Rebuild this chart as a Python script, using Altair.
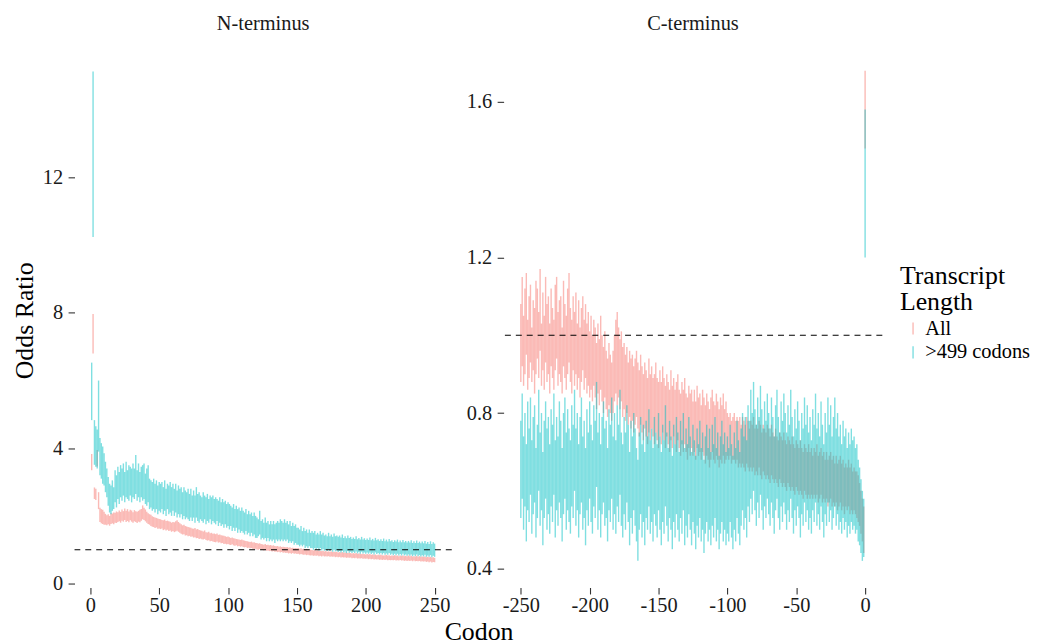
import altair as alt
import pandas as pd

SERIF = "Liberation Serif"
SERIES = ["All", ">499 codons"]
COLORS = ["#F8766D", "#00BFC4"]
PANELS = ["N-terminus", "C-terminus"]

n_codons = list(range(1, 251))
c_codons = list(range(-250, 1))

# ---- N-terminus, "All" (lower / upper CI) ----
n_all_lo = [
    3.35, 6.80, 2.50, 2.47, 3.46, 2.20, 1.82, 1.78, 1.76, 1.74,
    1.74, 1.72, 1.75, 1.71, 1.76, 1.78, 1.75, 1.80, 1.79, 1.82,
    1.84, 1.80, 1.86, 1.83, 1.88, 1.82, 1.85, 1.81, 1.87, 1.83,
    1.80, 1.84, 1.82, 1.79, 1.83, 1.81, 1.86, 1.90, 1.88, 1.84,
    1.80, 1.76, 1.74, 1.70, 1.68, 1.67, 1.64, 1.66, 1.62, 1.63,
    1.61, 1.63, 1.58, 1.60, 1.57, 1.59, 1.55, 1.57, 1.53, 1.55,
    1.52, 1.54, 1.56, 1.53, 1.50, 1.47, 1.45, 1.46, 1.42, 1.43,
    1.40, 1.41, 1.38, 1.39, 1.36, 1.37, 1.34, 1.35, 1.32, 1.33,
    1.31, 1.30, 1.32, 1.29, 1.27, 1.28, 1.25, 1.26, 1.24, 1.23,
    1.22, 1.24, 1.21, 1.22, 1.19, 1.20, 1.17, 1.18, 1.16, 1.17,
    1.15, 1.14, 1.16, 1.13, 1.12, 1.13, 1.10, 1.11, 1.09, 1.10,
    1.08, 1.07, 1.08, 1.05, 1.06, 1.04, 1.05, 1.03, 1.02, 1.03,
    1.01, 1.00, 1.02, 0.99, 1.00, 0.98, 0.99, 0.97, 0.98, 0.96,
    0.97, 0.95, 0.96, 0.94, 0.95, 0.93, 0.94, 0.92, 0.93, 0.91,
    0.92, 0.90, 0.91, 0.89, 0.90, 0.88, 0.90, 0.88, 0.89, 0.87,
    0.88, 0.86, 0.87, 0.86, 0.85, 0.86, 0.84, 0.85, 0.84, 0.83,
    0.84, 0.82, 0.83, 0.82, 0.83, 0.81, 0.82, 0.80, 0.82, 0.80,
    0.81, 0.80, 0.81, 0.79, 0.80, 0.79, 0.80, 0.78, 0.79, 0.78,
    0.79, 0.77, 0.78, 0.77, 0.78, 0.76, 0.77, 0.76, 0.77, 0.75,
    0.76, 0.75, 0.76, 0.74, 0.75, 0.74, 0.75, 0.73, 0.74, 0.73,
    0.74, 0.72, 0.73, 0.72, 0.73, 0.71, 0.72, 0.71, 0.72, 0.70,
    0.71, 0.70, 0.71, 0.70, 0.71, 0.69, 0.70, 0.69, 0.70, 0.69,
    0.70, 0.68, 0.69, 0.68, 0.70, 0.68, 0.69, 0.67, 0.68, 0.67,
    0.68, 0.67, 0.68, 0.66, 0.68, 0.66, 0.67, 0.66, 0.67, 0.65,
    0.66, 0.65, 0.66, 0.64, 0.65, 0.63, 0.65, 0.62, 0.64, 0.63,
]
n_all_hi = [
    3.83, 7.97, 2.84, 2.80, 3.95, 2.70, 2.24, 2.20, 2.18, 2.12,
    2.06, 2.02, 2.05, 2.00, 2.08, 2.07, 2.10, 2.09, 2.13, 2.11,
    2.16, 2.12, 2.19, 2.14, 2.22, 2.15, 2.20, 2.13, 2.18, 2.16,
    2.11, 2.17, 2.14, 2.12, 2.15, 2.18, 2.20, 2.31, 2.24, 2.19,
    2.12, 2.08, 2.05, 2.03, 1.99, 1.97, 1.95, 1.94, 1.92, 1.91,
    1.90, 1.88, 1.87, 1.89, 1.85, 1.86, 1.84, 1.83, 1.80, 1.82,
    1.81, 1.84, 1.87, 1.82, 1.78, 1.75, 1.72, 1.74, 1.70, 1.69,
    1.67, 1.66, 1.65, 1.63, 1.62, 1.64, 1.60, 1.61, 1.58, 1.57,
    1.56, 1.54, 1.57, 1.52, 1.51, 1.53, 1.49, 1.50, 1.47, 1.48,
    1.46, 1.48, 1.44, 1.45, 1.43, 1.42, 1.41, 1.40, 1.38, 1.39,
    1.37, 1.35, 1.36, 1.34, 1.33, 1.32, 1.31, 1.30, 1.29, 1.30,
    1.28, 1.27, 1.26, 1.25, 1.24, 1.23, 1.24, 1.21, 1.22, 1.20,
    1.20, 1.18, 1.19, 1.17, 1.16, 1.15, 1.17, 1.14, 1.15, 1.13,
    1.14, 1.12, 1.13, 1.11, 1.10, 1.11, 1.09, 1.10, 1.08, 1.09,
    1.08, 1.07, 1.08, 1.06, 1.07, 1.05, 1.06, 1.04, 1.05, 1.04,
    1.05, 1.03, 1.04, 1.02, 1.03, 1.01, 1.02, 1.00, 1.01, 1.00,
    0.99, 0.98, 0.99, 0.97, 0.98, 0.97, 0.96, 0.96, 0.97, 0.95,
    0.96, 0.94, 0.95, 0.94, 0.95, 0.93, 0.94, 0.93, 0.94, 0.92,
    0.93, 0.92, 0.93, 0.91, 0.92, 0.91, 0.90, 0.91, 0.90, 0.89,
    0.90, 0.89, 0.90, 0.88, 0.89, 0.88, 0.87, 0.88, 0.87, 0.86,
    0.87, 0.86, 0.87, 0.85, 0.86, 0.85, 0.86, 0.84, 0.85, 0.84,
    0.85, 0.84, 0.83, 0.84, 0.85, 0.83, 0.84, 0.82, 0.83, 0.82,
    0.84, 0.82, 0.83, 0.81, 0.83, 0.82, 0.83, 0.81, 0.82, 0.81,
    0.83, 0.81, 0.82, 0.80, 0.81, 0.80, 0.82, 0.79, 0.81, 0.79,
    0.80, 0.79, 0.80, 0.78, 0.79, 0.78, 0.79, 0.77, 0.78, 0.76,
]

# ---- N-terminus, ">499 codons" ----
n_long_lo = [
    4.83, 10.24, 3.51, 3.45, 3.40, 3.90, 3.20, 3.10, 2.95, 2.90,
    2.70, 2.55, 2.30, 2.10, 2.05, 2.15, 2.20, 2.40, 2.25, 2.50,
    2.35, 2.55, 2.45, 2.60, 2.40, 2.55, 2.50, 2.45, 2.60, 2.40,
    2.55, 2.50, 2.65, 2.45, 2.55, 2.40, 2.55, 2.45, 2.50, 2.35,
    2.30, 2.40, 2.20, 2.25, 2.15, 2.20, 2.10, 2.20, 2.05, 2.15,
    2.10, 2.20, 2.05, 2.15, 2.00, 2.20, 2.05, 2.10, 2.00, 2.15,
    2.00, 2.10, 1.95, 2.05, 1.95, 2.05, 1.90, 2.00, 1.90, 1.95,
    1.90, 1.85, 1.95, 1.85, 1.95, 1.80, 1.95, 1.85, 1.80, 1.90,
    1.85, 1.80, 1.90, 1.75, 1.85, 1.80, 1.90, 1.75, 1.85, 1.80,
    1.75, 1.85, 1.70, 1.80, 1.70, 1.75, 1.65, 1.75, 1.65, 1.70,
    1.60, 1.70, 1.55, 1.65, 1.55, 1.65, 1.50, 1.60, 1.50, 1.55,
    1.50, 1.45, 1.55, 1.45, 1.50, 1.40, 1.50, 1.40, 1.45, 1.35,
    1.35, 1.40, 1.45, 1.30, 1.35, 1.30, 1.35, 1.25, 1.35, 1.25,
    1.30, 1.25, 1.30, 1.20, 1.30, 1.25, 1.30, 1.25, 1.30, 1.25,
    1.30, 1.25, 1.30, 1.20, 1.25, 1.20, 1.25, 1.15, 1.20, 1.15,
    1.15, 1.10, 1.15, 1.10, 1.15, 1.05, 1.10, 1.05, 1.10, 1.05,
    1.05, 1.00, 1.05, 1.00, 1.05, 0.98, 1.05, 0.98, 1.02, 0.97,
    1.00, 0.96, 1.02, 0.96, 1.00, 0.94, 1.00, 0.95, 0.98, 0.93,
    0.96, 0.92, 0.97, 0.92, 0.95, 0.90, 0.96, 0.91, 0.94, 0.90,
    0.94, 0.90, 0.95, 0.89, 0.93, 0.88, 0.94, 0.89, 0.92, 0.88,
    0.92, 0.88, 0.92, 0.87, 0.91, 0.86, 0.92, 0.87, 0.90, 0.86,
    0.90, 0.86, 0.90, 0.85, 0.89, 0.85, 0.90, 0.85, 0.88, 0.84,
    0.88, 0.84, 0.88, 0.83, 0.87, 0.83, 0.88, 0.83, 0.86, 0.82,
    0.86, 0.82, 0.86, 0.81, 0.85, 0.81, 0.86, 0.81, 0.84, 0.80,
    0.84, 0.80, 0.85, 0.79, 0.83, 0.79, 0.84, 0.78, 0.82, 0.79,
]
n_long_hi = [
    6.53, 15.13, 4.83, 4.65, 4.55, 6.00, 4.30, 4.15, 4.05, 3.85,
    3.60, 3.40, 3.15, 2.95, 2.90, 3.05, 2.85, 3.35, 3.20, 3.45,
    3.30, 3.50, 3.40, 3.55, 3.30, 3.60, 3.35, 3.50, 3.45, 3.40,
    3.55, 3.40, 3.80, 3.35, 3.55, 3.30, 3.45, 3.50, 3.55, 3.25,
    3.40, 3.50, 3.10, 3.05, 3.00, 3.10, 2.95, 3.05, 2.90, 3.00,
    2.95, 3.00, 2.85, 3.05, 2.80, 2.95, 2.90, 3.00, 2.85, 2.95,
    2.80, 2.95, 2.75, 2.90, 2.80, 2.85, 2.70, 2.85, 2.75, 2.70,
    2.80, 2.65, 2.80, 2.60, 2.75, 2.60, 2.85, 2.65, 2.70, 2.60,
    2.55, 2.70, 2.60, 2.55, 2.65, 2.50, 2.60, 2.55, 2.60, 2.50,
    2.55, 2.50, 2.45, 2.55, 2.40, 2.50, 2.40, 2.45, 2.35, 2.40,
    2.35, 2.30, 2.25, 2.35, 2.20, 2.30, 2.20, 2.25, 2.15, 2.25,
    2.15, 2.10, 2.20, 2.05, 2.15, 2.05, 2.10, 2.00, 2.10, 2.00,
    1.95, 1.90, 2.15, 1.85, 1.90, 1.80, 1.95, 1.80, 1.85, 1.75,
    1.85, 1.75, 1.85, 1.75, 1.80, 1.85, 1.80, 1.90, 1.85, 1.80,
    1.90, 1.80, 1.85, 1.75, 1.85, 1.70, 1.80, 1.70, 1.75, 1.65,
    1.65, 1.60, 1.70, 1.55, 1.65, 1.55, 1.60, 1.50, 1.60, 1.50,
    1.55, 1.50, 1.55, 1.45, 1.50, 1.45, 1.55, 1.45, 1.50, 1.42,
    1.45, 1.40, 1.50, 1.40, 1.45, 1.38, 1.48, 1.40, 1.42, 1.38,
    1.42, 1.36, 1.45, 1.35, 1.40, 1.34, 1.42, 1.35, 1.38, 1.32,
    1.36, 1.32, 1.40, 1.31, 1.35, 1.30, 1.38, 1.30, 1.34, 1.29,
    1.33, 1.29, 1.36, 1.28, 1.32, 1.27, 1.35, 1.28, 1.31, 1.26,
    1.31, 1.26, 1.33, 1.25, 1.30, 1.24, 1.32, 1.25, 1.28, 1.23,
    1.28, 1.24, 1.30, 1.22, 1.27, 1.22, 1.29, 1.22, 1.26, 1.21,
    1.26, 1.21, 1.28, 1.20, 1.25, 1.20, 1.27, 1.20, 1.24, 1.19,
    1.24, 1.19, 1.26, 1.18, 1.23, 1.17, 1.25, 1.17, 1.22, 1.18,
]

# ---- C-terminus, "All" (codon -250 ... 0) ----
c_all_lo = [
    0.88, 0.92, 0.87, 0.90, 0.95, 0.86, 0.89, 0.93, 0.88, 0.91,
    0.85, 0.90, 0.94, 0.89, 0.96, 0.87, 0.91, 0.86, 0.93, 0.88,
    0.90, 0.85, 0.92, 0.89, 0.86, 0.91, 0.94, 0.87, 0.90, 0.88,
    0.85, 0.92, 0.89, 0.86, 0.90, 0.93, 0.88, 0.85, 0.91, 0.87,
    0.90, 0.86, 0.89, 0.84, 0.88, 0.91, 0.86, 0.89, 0.85, 0.87,
    0.84, 0.86, 0.83, 0.87, 0.84, 0.81, 0.85, 0.82, 0.86, 0.83,
    0.80, 0.84, 0.81, 0.79, 0.82, 0.80, 0.78, 0.80, 0.83, 0.85,
    0.82, 0.84, 0.81, 0.83, 0.79, 0.81, 0.78, 0.80, 0.77, 0.79,
    0.76, 0.78, 0.75, 0.77, 0.79, 0.76, 0.74, 0.77, 0.75, 0.73,
    0.76, 0.74, 0.72, 0.75, 0.73, 0.76, 0.74, 0.72, 0.75, 0.73,
    0.71, 0.74, 0.72, 0.75, 0.73, 0.71, 0.74, 0.72, 0.70, 0.73,
    0.71, 0.74, 0.72, 0.70, 0.73, 0.71, 0.69, 0.72, 0.70, 0.72,
    0.70, 0.68, 0.71, 0.69, 0.71, 0.69, 0.70, 0.68, 0.71, 0.69,
    0.70, 0.68, 0.70, 0.69, 0.67, 0.69, 0.68, 0.66, 0.68, 0.70,
    0.68, 0.67, 0.69, 0.68, 0.66, 0.68, 0.67, 0.69, 0.67, 0.68,
    0.69, 0.68, 0.69, 0.67, 0.68, 0.68, 0.67, 0.68, 0.66, 0.67,
    0.66, 0.67, 0.66, 0.65, 0.67, 0.66, 0.65, 0.66, 0.65, 0.66,
    0.64, 0.65, 0.64, 0.66, 0.64, 0.63, 0.65, 0.64, 0.63, 0.64,
    0.63, 0.62, 0.64, 0.63, 0.62, 0.63, 0.62, 0.61, 0.63, 0.62,
    0.61, 0.62, 0.61, 0.60, 0.62, 0.61, 0.60, 0.61, 0.60, 0.59,
    0.61, 0.60, 0.59, 0.60, 0.59, 0.58, 0.60, 0.59, 0.58, 0.59,
    0.58, 0.59, 0.58, 0.59, 0.58, 0.59, 0.57, 0.58, 0.59, 0.57,
    0.58, 0.57, 0.58, 0.56, 0.57, 0.58, 0.56, 0.57, 0.56, 0.57,
    0.55, 0.56, 0.57, 0.55, 0.56, 0.54, 0.56, 0.55, 0.56, 0.54,
    0.55, 0.54, 0.55, 0.54, 0.53, 0.52, 0.51, 0.49, 0.47, 0.44,
    1.48,
]
c_all_hi = [
    1.08, 1.15, 1.05, 1.12, 1.16, 1.04, 1.10, 1.13, 1.02, 1.09,
    1.07, 1.14, 1.12, 1.06, 1.17, 1.03, 1.11, 1.05, 1.15, 1.08,
    1.10, 1.03, 1.12, 1.07, 1.04, 1.13, 1.15, 1.06, 1.09, 1.10,
    1.02, 1.14, 1.08, 1.05, 1.12, 1.16, 1.07, 1.04, 1.10, 1.06,
    1.11, 1.03, 1.09, 1.02, 1.07, 1.10, 1.04, 1.08, 1.03, 1.06,
    1.01, 1.05, 1.00, 1.04, 1.02, 0.98, 1.03, 0.99, 1.05, 1.00,
    0.97, 1.01, 0.96, 0.94, 0.98, 0.95, 0.93, 0.96, 1.00, 1.04,
    1.06, 1.02, 0.99, 1.01, 0.97, 0.98, 0.95, 0.97, 0.93, 0.96,
    0.94, 0.95, 0.92, 0.94, 0.96, 0.93, 0.91, 0.95, 0.92, 0.90,
    0.93, 0.91, 0.89, 0.94, 0.90, 0.92, 0.89, 0.90, 0.93, 0.89,
    0.88, 0.91, 0.88, 0.92, 0.89, 0.87, 0.90, 0.88, 0.86, 0.91,
    0.87, 0.89, 0.86, 0.88, 0.90, 0.86, 0.85, 0.88, 0.86, 0.89,
    0.85, 0.84, 0.87, 0.85, 0.86, 0.83, 0.86, 0.83, 0.87, 0.84,
    0.85, 0.82, 0.86, 0.84, 0.82, 0.85, 0.83, 0.81, 0.84, 0.86,
    0.83, 0.82, 0.85, 0.83, 0.81, 0.84, 0.82, 0.85, 0.81, 0.83,
    0.80, 0.79, 0.80, 0.78, 0.79, 0.80, 0.78, 0.79, 0.78, 0.79,
    0.77, 0.79, 0.78, 0.77, 0.79, 0.78, 0.76, 0.78, 0.77, 0.79,
    0.76, 0.77, 0.76, 0.78, 0.77, 0.75, 0.77, 0.76, 0.75, 0.77,
    0.76, 0.74, 0.77, 0.75, 0.74, 0.76, 0.74, 0.73, 0.75, 0.74,
    0.73, 0.75, 0.73, 0.72, 0.74, 0.73, 0.72, 0.74, 0.72, 0.71,
    0.73, 0.72, 0.71, 0.73, 0.71, 0.70, 0.72, 0.71, 0.70, 0.72,
    0.70, 0.71, 0.69, 0.71, 0.70, 0.72, 0.69, 0.70, 0.71, 0.69,
    0.70, 0.68, 0.70, 0.68, 0.69, 0.70, 0.68, 0.69, 0.67, 0.69,
    0.67, 0.68, 0.69, 0.67, 0.68, 0.66, 0.67, 0.66, 0.68, 0.66,
    0.67, 0.65, 0.66, 0.65, 0.65, 0.64, 0.62, 0.60, 0.58, 0.56,
    1.68,
]

# ---- C-terminus, ">499 codons" ----
c_long_lo = [
    0.53, 0.58, 0.50, 0.56, 0.47, 0.55, 0.52, 0.59, 0.49, 0.54,
    0.57, 0.48, 0.53, 0.60, 0.51, 0.55, 0.46, 0.53, 0.58, 0.50,
    0.54, 0.49, 0.56, 0.52, 0.59, 0.48, 0.55, 0.51, 0.57, 0.53,
    0.47, 0.54, 0.58, 0.50, 0.55, 0.52, 0.49, 0.56, 0.53, 0.60,
    0.51, 0.55, 0.48, 0.54, 0.57, 0.50, 0.53, 0.46, 0.55, 0.51,
    0.58, 0.52, 0.49, 0.56, 0.53, 0.61, 0.50, 0.55, 0.48, 0.54,
    0.57, 0.51, 0.53, 0.47, 0.55, 0.52, 0.58, 0.50, 0.54, 0.49,
    0.56, 0.52, 0.59, 0.51, 0.48, 0.54, 0.50, 0.57, 0.52, 0.46,
    0.53, 0.49, 0.55, 0.51, 0.47, 0.42, 0.50, 0.54, 0.48, 0.52,
    0.46, 0.53, 0.50, 0.56, 0.49, 0.52, 0.47, 0.54, 0.51, 0.48,
    0.55, 0.50, 0.46, 0.52, 0.49, 0.56, 0.51, 0.47, 0.53, 0.50,
    0.45, 0.52, 0.48, 0.54, 0.50, 0.47, 0.53, 0.49, 0.55, 0.46,
    0.51, 0.48, 0.54, 0.50, 0.46, 0.52, 0.49, 0.45, 0.51, 0.48,
    0.53, 0.47, 0.50, 0.44, 0.49, 0.52, 0.47, 0.50, 0.46, 0.51,
    0.48, 0.53, 0.47, 0.50, 0.45, 0.49, 0.52, 0.47, 0.50, 0.46,
    0.49, 0.47, 0.52, 0.48, 0.45, 0.50, 0.47, 0.53, 0.49, 0.46,
    0.51, 0.55, 0.50, 0.53, 0.48, 0.56, 0.52, 0.58, 0.54, 0.60,
    0.55, 0.51, 0.57, 0.53, 0.59, 0.55, 0.50, 0.56, 0.53, 0.58,
    0.54, 0.51, 0.57, 0.53, 0.49, 0.55, 0.58, 0.53, 0.50, 0.56,
    0.52, 0.57, 0.54, 0.50, 0.55, 0.52, 0.58, 0.53, 0.49, 0.55,
    0.51, 0.56, 0.53, 0.48, 0.54, 0.51, 0.57, 0.52, 0.55, 0.50,
    0.53, 0.49, 0.55, 0.52, 0.57, 0.51, 0.54, 0.50, 0.56, 0.52,
    0.48, 0.54, 0.51, 0.57, 0.52, 0.55, 0.50, 0.53, 0.56, 0.51,
    0.54, 0.50, 0.52, 0.49, 0.53, 0.50, 0.52, 0.48, 0.51, 0.49,
    0.52, 0.50, 0.51, 0.49, 0.50, 0.47, 0.46, 0.44, 0.42, 0.43,
    1.20,
]
c_long_hi = [
    0.78, 0.85, 0.74, 0.80, 0.72, 0.83, 0.76, 0.84, 0.73, 0.79,
    0.82, 0.71, 0.77, 0.86, 0.75, 0.80, 0.70, 0.78, 0.83, 0.76,
    0.79, 0.72, 0.81, 0.77, 0.85, 0.73, 0.79, 0.74, 0.83, 0.78,
    0.71, 0.80, 0.84, 0.75, 0.81, 0.76, 0.73, 0.82, 0.77, 0.86,
    0.76, 0.80, 0.72, 0.79, 0.84, 0.74, 0.78, 0.71, 0.81, 0.75,
    0.83, 0.77, 0.73, 0.82, 0.78, 0.88, 0.75, 0.80, 0.72, 0.79,
    0.83, 0.76, 0.78, 0.71, 0.81, 0.77, 0.84, 0.74, 0.80, 0.73,
    0.82, 0.77, 0.86, 0.75, 0.72, 0.79, 0.75, 0.82, 0.77, 0.70,
    0.78, 0.74, 0.80, 0.76, 0.71, 0.68, 0.75, 0.79, 0.72, 0.77,
    0.70, 0.78, 0.74, 0.81, 0.73, 0.76, 0.71, 0.79, 0.75, 0.72,
    0.80, 0.74, 0.70, 0.77, 0.73, 0.82, 0.75, 0.71, 0.78, 0.74,
    0.69, 0.77, 0.72, 0.79, 0.75, 0.70, 0.78, 0.73, 0.80, 0.71,
    0.76, 0.72, 0.79, 0.74, 0.70, 0.77, 0.73, 0.69, 0.76, 0.72,
    0.78, 0.71, 0.75, 0.68, 0.74, 0.77, 0.71, 0.76, 0.70, 0.77,
    0.72, 0.79, 0.71, 0.75, 0.69, 0.74, 0.78, 0.72, 0.75, 0.70,
    0.74, 0.71, 0.77, 0.72, 0.69, 0.75, 0.71, 0.78, 0.73, 0.70,
    0.76, 0.80, 0.74, 0.79, 0.73, 0.82, 0.78, 0.86, 0.80, 0.88,
    0.81, 0.77, 0.84, 0.79, 0.87, 0.81, 0.76, 0.83, 0.78, 0.85,
    0.80, 0.76, 0.84, 0.79, 0.74, 0.82, 0.86, 0.79, 0.75, 0.83,
    0.78, 0.85, 0.80, 0.75, 0.82, 0.77, 0.86, 0.79, 0.74, 0.81,
    0.76, 0.83, 0.78, 0.73, 0.80, 0.76, 0.84, 0.77, 0.82, 0.75,
    0.79, 0.73, 0.81, 0.77, 0.85, 0.76, 0.80, 0.74, 0.83, 0.77,
    0.72, 0.80, 0.75, 0.84, 0.77, 0.82, 0.74, 0.79, 0.84, 0.76,
    0.80, 0.74, 0.77, 0.72, 0.78, 0.74, 0.76, 0.71, 0.75, 0.72,
    0.76, 0.73, 0.74, 0.71, 0.72, 0.68, 0.66, 0.63, 0.60, 0.58,
    1.58,
]

n_xticks = [0, 50, 100, 150, 200, 250]
c_xticks = [-250, -200, -150, -100, -50, 0]
n_yticks = [0, 4, 8, 12]
c_yticks = [0.4, 0.8, 1.2, 1.6]
ref_value = [1.0]

lens = [len(a) for a in (n_all_lo, n_all_hi, n_long_lo, n_long_hi)]
lens_c = [len(a) for a in (c_all_lo, c_all_hi, c_long_lo, c_long_hi)]
assert all(l == 250 for l in lens), lens
assert all(l == 251 for l in lens_c), lens_c


def frame(codons, lo, hi, label):
    return pd.DataFrame({"codon": codons, "lo": lo, "hi": hi, "series": label})


df_n = pd.concat([frame(n_codons, n_all_lo, n_all_hi, SERIES[0]),
                  frame(n_codons, n_long_lo, n_long_hi, SERIES[1])], ignore_index=True)
df_c = pd.concat([frame(c_codons, c_all_lo, c_all_hi, SERIES[0]),
                  frame(c_codons, c_long_lo, c_long_hi, SERIES[1])], ignore_index=True)

color = alt.Color(
    "series:N",
    scale=alt.Scale(domain=SERIES, range=COLORS),
    legend=alt.Legend(
        title=["Transcript", "Length"],
        titleFont=SERIF, titleFontSize=26, titleFontWeight="normal", titleColor="#000000",
        titleLineHeight=27, titlePadding=3,
        labelFont=SERIF, labelFontSize=20.5, labelColor="#000000", labelOffset=2,
        symbolType="M0,-1L0,1", symbolSize=150, symbolStrokeWidth=1.4, symbolOpacity=0.5,
        symbolOffset=3, rowPadding=3,
        orient="none", legendX=831, legendY=219,
    ),
)

TICK = dict(domain=False, grid=False, ticks=True, tickSize=6.5, tickWidth=1.1,
            tickColor="#333333", labelFont=SERIF, labelFontSize=20.5,
            labelColor="#1a1a1a", labelExpr="'' + datum.value", labelFlush=False,
            labelOverlap=False)

H = 546


def panel(df, xdom, ydom, xvals, yvals, width, title, xaxis_extra, yaxis_extra):
    xscale = alt.Scale(domain=xdom, nice=False, zero=False)
    yscale = alt.Scale(domain=ydom, nice=False, zero=False)
    yaxis = alt.Axis(values=yvals, labelPadding=5.5, **TICK, **yaxis_extra)
    bars = alt.Chart(df).mark_rule(strokeWidth=1.4, opacity=0.5).encode(
        x=alt.X("codon:Q", scale=xscale,
                axis=alt.Axis(values=xvals, labelPadding=2, **TICK, **xaxis_extra)),
        y=alt.Y("lo:Q", scale=yscale, axis=yaxis),
        y2="hi:Q",
        color=color,
    )
    ref = alt.Chart(pd.DataFrame({"lo": ref_value})).mark_rule(
        color="#000000", strokeDash=[6, 5], strokeWidth=1.2
    ).encode(y=alt.Y("lo:Q", scale=yscale, axis=yaxis))
    head = alt.Chart(pd.DataFrame({"panel": [title]})).mark_text(
        font=SERIF, fontSize=20.5, color="#1a1a1a", align="center", baseline="alphabetic"
    ).encode(text="panel:N", x=alt.value(width / 2), y=alt.value(-15.5))
    return alt.layer(bars, ref, head).properties(width=width, height=H)


left = panel(
    df_n, [-11.45, 262.45], [-0.117, 15.91], n_xticks, n_yticks, 379.8, PANELS[0],
    dict(title=None),
    dict(title="Odds Ratio", titleFont=SERIF, titleFontSize=26, titleFontWeight="normal",
         titleColor="#000000", titleAngle=270, titleX=-42, titleY=277,
         titleAlign="center", titleBaseline="alphabetic"),
)
right = panel(
    df_c, [-262.5, 12.5], [0.3515, 1.7455], c_xticks, c_yticks, 381.3, PANELS[1],
    dict(title="Codon", titleFont=SERIF, titleFontSize=26, titleFontWeight="normal",
         titleColor="#000000", titleX=-25.2, titleY=52.7, titleAlign="center",
         titleBaseline="alphabetic"),
    dict(title=None),
)

chart = alt.hconcat(left, right, spacing=52, bounds="flush").properties(
    padding={"left": 4, "top": 3.3, "right": 0, "bottom": 0},
).configure_view(strokeWidth=0)

chart.save("out.html", embed_options={"renderer": "svg", "actions": False})
